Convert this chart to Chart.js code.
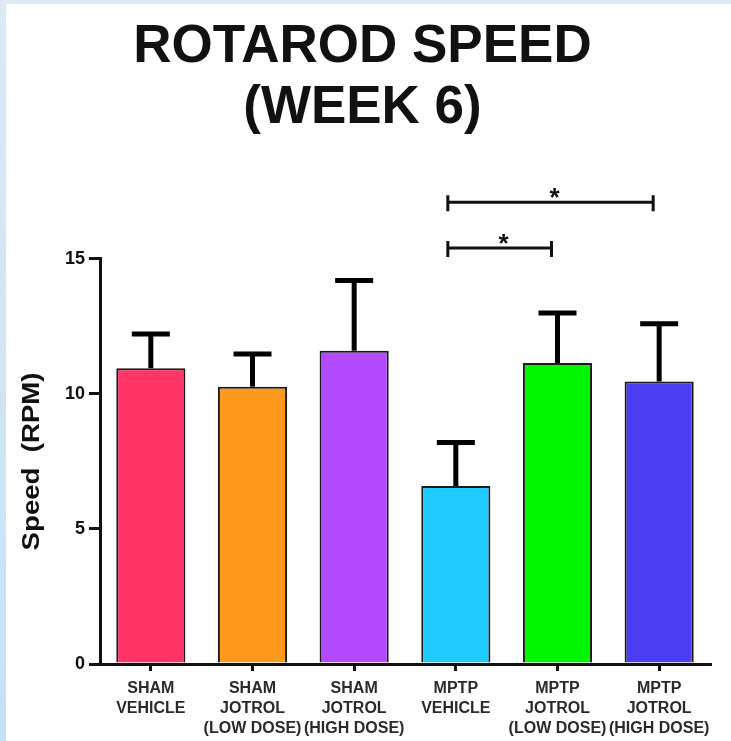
<!DOCTYPE html>
<html>
<head>
<meta charset="utf-8">
<style>
  html, body { margin: 0; padding: 0; background: #fff; }
  #wrap { width: 731px; height: 741px; }
</style>
</head>
<body>
<div id="wrap">
  <canvas id="myChart" width="731" height="741"></canvas>
</div>
<script src="https://cdn.jsdelivr.net/npm/chart.js"></script>
<script>
  const groups = [
    ["SHAM", "VEHICLE"],
    ["SHAM", "JOTROL", "(LOW DOSE)"],
    ["SHAM", "JOTROL", "(HIGH DOSE)"],
    ["MPTP", "VEHICLE"],
    ["MPTP", "JOTROL", "(LOW DOSE)"],
    ["MPTP", "JOTROL", "(HIGH DOSE)"],
  ];
  const meanSpeed = [10.95, 10.27, 11.6, 6.59, 11.15, 10.46];
  const semSpeed = [1.27, 1.21, 2.6, 1.61, 1.85, 2.14];
  const yTicks = [0, 5, 10, 15];
  // significance brackets: from group, to group, height (RPM)
  const sigFrom = [3, 3];
  const sigTo = [5, 4];
  const sigHeight = [17.1, 15.4];
  const sigMark = ["*", "*"];

  const barColors = ["#ff3567", "#ff9a1e", "#b24bff", "#1fcbff", "#00f500", "#4a3df2"];
  const FONT = "'Liberation Sans', Arial, sans-serif";

  const background = {
    id: "frameBackground",
    beforeDraw: (chart) => {
      const { ctx, width, height } = chart;
      ctx.save();
      ctx.fillStyle = "#ffffff";
      ctx.fillRect(0, 0, width, height);
      const g = ctx.createLinearGradient(0, 0, 0, height);
      g.addColorStop(0, "#dde9f5");
      g.addColorStop(1, "#c4e2f5");
      ctx.fillStyle = g;
      ctx.fillRect(0, 0, 6, height);
      ctx.fillStyle = "#e0eaf6";
      ctx.fillRect(0, 0, width, 4);
      ctx.restore();
    },
  };

  const errorBars = {
    id: "errorBars",
    afterDatasetsDraw: (chart) => {
      const { ctx } = chart;
      const y = chart.scales.y;
      const meta = chart.getDatasetMeta(0);
      ctx.save();
      ctx.strokeStyle = "#000";
      ctx.lineWidth = 5;
      meta.data.forEach((bar, i) => {
        const top = y.getPixelForValue(meanSpeed[i] + semSpeed[i]);
        const base = y.getPixelForValue(meanSpeed[i]);
        ctx.beginPath();
        ctx.moveTo(bar.x, base);
        ctx.lineTo(bar.x, top);
        ctx.moveTo(bar.x - 19, top);
        ctx.lineTo(bar.x + 19, top);
        ctx.stroke();
      });
      ctx.restore();
    },
  };

  const brackets = {
    id: "sigBrackets",
    afterDraw: (chart) => {
      const { ctx } = chart;
      const x = chart.scales.x;
      const y = chart.scales.y;
      ctx.save();
      ctx.strokeStyle = "#111";
      ctx.fillStyle = "#111";
      ctx.lineWidth = 3;
      ctx.font = "bold 26px " + FONT;
      ctx.textAlign = "center";
      ctx.textBaseline = "alphabetic";
      sigFrom.forEach((from, k) => {
        const x1 = x.getPixelForValue(from) - 8;
        const x2 = x.getPixelForValue(sigTo[k]) - 6;
        const yy = y.getPixelForValue(sigHeight[k]);
        ctx.beginPath();
        ctx.moveTo(x1, yy);
        ctx.lineTo(x2, yy);
        ctx.moveTo(x1, yy - 7);
        ctx.lineTo(x1, yy + 9);
        ctx.moveTo(x2, yy - 7);
        ctx.lineTo(x2, yy + 9);
        ctx.stroke();
        ctx.fillText(sigMark[k], (x1 + x2) / 2 + 4, yy + 4);
      });

      // y axis title
      ctx.save();
      ctx.translate(33, (chart.chartArea.top + chart.chartArea.bottom) / 2);
      ctx.rotate(-Math.PI / 2);
      ctx.scale(1.2, 1);
      ctx.font = "bold 23px " + FONT;
      ctx.textBaseline = "middle";
      ctx.fillText("Speed  (RPM)", 0, 0);
      ctx.restore();
      ctx.restore();
    },
  };

  new Chart(document.getElementById("myChart"), {
    type: "bar",
    data: {
      labels: groups,
      datasets: [
        {
          data: meanSpeed,
          backgroundColor: barColors,
          borderColor: "#1a1a1a",
          borderWidth: 2,
          barPercentage: 0.68,
          categoryPercentage: 1,
        },
      ],
    },
    options: {
      responsive: false,
      animation: false,
      layout: { padding: { left: 15, right: 21, top: 0, bottom: 4 } },
      plugins: {
        legend: { display: false },
        tooltip: { enabled: false },
        title: {
          display: true,
          text: ["ROTAROD SPEED", "(WEEK 6)"],
          color: "#111",
          font: { family: FONT, size: 53, weight: "bold", lineHeight: 1.15 },
          padding: { top: 17, bottom: 120 },
        },
      },
      scales: {
        x: {
          afterFit: (scale) => { scale.height = 73; },
          border: { display: true, color: "#111", width: 3 },
          grid: {
            offset: false,
            drawOnChartArea: false,
            drawTicks: true,
            tickLength: 7,
            lineWidth: 3,
            color: "#111",
          },
          ticks: {
            autoSkip: false,
            maxRotation: 0,
            minRotation: 0,
            padding: 8,
            color: "#2a2a2a",
            font: { family: FONT, size: 16, weight: "bold", lineHeight: 1.25 },
          },
        },
        y: {
          min: 0,
          max: 15,
          afterFit: (scale) => { scale.width = 85; },
          afterBuildTicks: (scale) => {
            scale.ticks = yTicks.map((v) => ({ value: v }));
          },
          border: { display: true, color: "#111", width: 3 },
          grid: {
            drawOnChartArea: false,
            drawTicks: true,
            tickLength: 11,
            lineWidth: 3,
            color: "#111",
          },
          ticks: {
            padding: 4,
            color: "#111",
            font: { family: FONT, size: 18, weight: "bold" },
          },
        },
      },
    },
    plugins: [background, errorBars, brackets],
  });
</script>
</body>
</html>
